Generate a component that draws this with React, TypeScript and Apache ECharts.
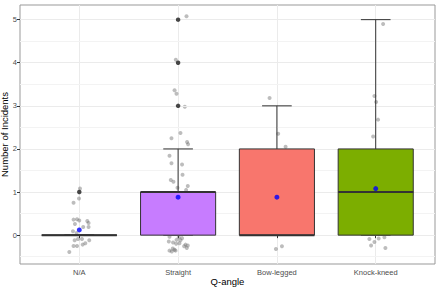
import React, { useEffect, useRef } from 'react';
import * as echarts from 'echarts';

const categories = ['N/A', 'Straight', 'Bow-legged', 'Knock-kneed'];
const boxColors = ['#00BFC4', '#C77CFF', '#F8766D', '#7CAE00'];
const lowerWhisker = [0, 0, 0, 0];
const q1 = [0, 0, 0, 0];
const median = [0, 1, 0, 1];
const q3 = [0, 1, 2, 2];
const upperWhisker = [0, 2, 3, 5];
const means = [0.12, 0.88, 0.88, 1.08];
const outliers = [[1, 1], [2, 3], [2, 4], [2, 5]];

// jittered observations: [category position with jitter, value with jitter]
const jitterNA = [
  [1.007, 1.08], [0.997, 0.85], [0.942, 0.75], [0.942, 0.36], [0.977, 0.37],
  [1.0, 0.34], [1.081, 0.33], [1.094, 0.28], [0.956, 0.26], [1.04, 0.19],
  [1.094, 0.19], [0.936, 0.09], [0.973, 0.05], [1.027, -0.09], [0.987, -0.09],
  [0.953, -0.12], [1.101, -0.12], [1.061, -0.19], [1.034, -0.22], [0.942, -0.25],
  [0.977, -0.25], [0.899, -0.39],
];
const jitterStraight = [
  [2.085, 5.08], [1.977, 4.07], [1.964, 3.36], [1.984, 3.28], [2.068, 2.98],
  [2.024, 2.37], [1.933, 2.25], [2.091, 2.16], [2.101, 2.11], [1.913, 1.84],
  [1.933, 1.67], [2.04, 1.64], [2.045, 1.4], [1.926, 1.28], [1.953, 1.24],
  [1.994, 1.1], [2.098, 1.14], [2.081, 1.05],
  [1.913, -0.04], [2.007, -0.05], [2.04, -0.07], [1.984, -0.11], [2.024, -0.12],
  [1.906, -0.15], [1.949, -0.17], [1.98, -0.2], [2.014, -0.19], [2.075, -0.22],
  [2.098, -0.24], [2.061, -0.26], [2.088, -0.3], [1.946, -0.31], [1.964, -0.34],
  [1.913, -0.36], [1.974, -0.36], [1.936, -0.38],
];
const jitterBow = [
  [2.926, 3.18], [3.013, 2.35], [3.088, 2.05], [2.99, -0.32], [3.051, -0.26],
];
const jitterKnock = [
  [4.075, 4.9], [3.987, 3.23], [4.004, 3.09], [4.024, 2.68], [3.974, 2.29],
  [3.936, -0.09], [3.987, -0.16], [4.03, -0.08], [4.088, -0.05], [3.953, -0.24],
  [4.098, -0.3],
];

const yTicks = [0, 1, 2, 3, 4, 5];
const yMinorTicks = [-0.5, 0.5, 1.5, 2.5, 3.5, 4.5];
const xTicks = [1, 2, 3, 4];

const FONT = '"Liberation Sans", Arial, Helvetica, sans-serif';

export default function App() {
  const ref = useRef<HTMLDivElement>(null);
  useEffect(() => {
    document.body.style.margin = '0';
    if (!ref.current) return;
    const chart = echarts.init(ref.current, null, { renderer: 'svg' });
    const boxData = categories.map((_, i) => [
      i + 1, lowerWhisker[i], q1[i], median[i], q3[i], upperWhisker[i],
    ]);
    const dark = '#333333';
    chart.setOption({
      animation: false,
      backgroundColor: '#ffffff',
      textStyle: { fontFamily: FONT },
      grid: {
        left: 20, top: 5, right: 5, bottom: 25,
        containLabel: false, outerBoundsMode: 'none',
        show: true, borderColor: '#999999', borderWidth: 1, backgroundColor: '#ffffff',
      },
      xAxis: {
        type: 'value', min: 0.4, max: 4.6,
        name: 'Q-angle', nameLocation: 'middle', nameGap: 12, nameMoveOverlap: false,
        nameTextStyle: { color: '#000', fontSize: 9.5, fontFamily: FONT },
        axisLine: { show: false },
        axisTick: { show: true, length: 3, customValues: xTicks, lineStyle: { color: dark } },
        axisLabel: {
          customValues: xTicks, margin: 4, color: '#4D4D4D', fontSize: 7.5, fontFamily: FONT,
          formatter: (v: number) => categories[Math.round(v) - 1] ?? '',
        },
        splitLine: { show: true, lineStyle: { color: '#EBEBEB', width: 1 } },
      },
      yAxis: [
        {
          type: 'value', min: -0.67, max: 5.34,
          name: 'Number of Incidents', nameLocation: 'middle', nameGap: 11, nameMoveOverlap: false,
          nameTextStyle: { color: '#000', fontSize: 9.5, fontFamily: FONT },
          axisLine: { show: false },
          axisTick: { show: true, length: 3, customValues: yTicks, lineStyle: { color: dark } },
          axisLabel: { customValues: yTicks, margin: 3, color: '#4D4D4D', fontSize: 7.5, fontFamily: FONT },
          splitLine: { show: true, lineStyle: { color: '#EBEBEB', width: 1 } },
          z: 2,
        },
        {
          type: 'value', min: -0.67, max: 5.34, position: 'left',
          axisLine: { show: false },
          axisTick: { show: false, customValues: yMinorTicks },
          axisLabel: { show: false, customValues: yMinorTicks },
          splitLine: { show: true, lineStyle: { color: '#F3F3F3', width: 1 } },
          z: 1,
        },
      ],
      series: [
        {
          type: 'scatter', name: 'obs', z: 1,
          data: [...jitterNA, ...jitterStraight, ...jitterBow, ...jitterKnock],
          symbolSize: 4,
          itemStyle: { color: 'rgba(90,90,90,0.5)' },
          silent: true,
        },
        {
          type: 'custom', name: 'box', z: 2,
          data: boxData,
          encode: { x: 0, y: [1, 2, 3, 4, 5] },
          renderItem: (params: any, api: any) => {
            const x = api.value(0);
            const lw = api.value(1), b1 = api.value(2), md = api.value(3), b3 = api.value(4), uw = api.value(5);
            const halfW = api.size([0.76, 0])[0] / 2;
            const capHalf = api.size([0.3, 0])[0] / 2;
            const pLw = api.coord([x, lw]);
            const pQ1 = api.coord([x, b1]);
            const pMd = api.coord([x, md]);
            const pQ3 = api.coord([x, b3]);
            const pUw = api.coord([x, uw]);
            const cx = pMd[0];
            const line = (x1: number, y1: number, x2: number, y2: number, w: number) => ({
              type: 'line',
              shape: { x1, y1, x2, y2 },
              style: { stroke: dark, lineWidth: w },
            });
            return {
              type: 'group',
              children: [
                line(cx, pQ3[1], cx, pUw[1], 1),
                line(cx - capHalf, pUw[1], cx + capHalf, pUw[1], 1),
                line(cx, pQ1[1], cx, pLw[1], 1),
                line(cx - capHalf, pLw[1], cx + capHalf, pLw[1], 1),
                {
                  type: 'rect',
                  shape: { x: cx - halfW, y: pQ3[1], width: halfW * 2, height: pQ1[1] - pQ3[1] },
                  style: { fill: boxColors[params.dataIndex], stroke: dark, lineWidth: 1 },
                },
                line(cx - halfW, pMd[1], cx + halfW, pMd[1], 2),
              ],
            };
          },
          silent: true,
        },
        {
          type: 'scatter', name: 'outliers', z: 3,
          data: outliers,
          symbolSize: 4.5,
          itemStyle: { color: '#1a1a1a' },
          silent: true,
        },
        {
          type: 'scatter', name: 'mean', z: 4,
          data: means.map((m, i) => [i + 1, m]),
          symbolSize: 5,
          itemStyle: { color: '#0000FF' },
          silent: true,
        },
      ],
    });
    return () => chart.dispose();
  }, []);
  return <div ref={ref} style={{ width: 440, height: 289 }} />;
}
